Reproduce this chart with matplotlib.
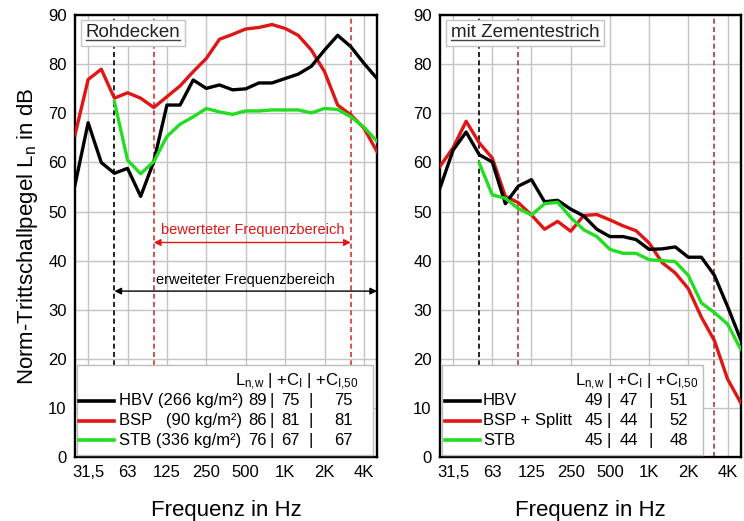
import matplotlib
matplotlib.use("Agg")
import matplotlib.pyplot as plt
from matplotlib.patches import Rectangle
from matplotlib.lines import Line2D

plt.rcParams["font.family"] = ["Liberation Sans", "DejaVu Sans"]
plt.rcParams["mathtext.default"] = "regular"

# third-octave bands 25 Hz .. 5 kHz
BANDS = [25, 31.5, 40, 50, 63, 80, 100, 125, 160, 200, 250, 315,
         400, 500, 630, 800, 1000, 1250, 1600, 2000, 2500, 3150, 4000, 5000]
OCTAVE_BANDS = [31.5, 63, 125, 250, 500, 1000, 2000, 4000]
OCTAVE_LABELS = ["31,5", "63", "125", "250", "500", "1K", "2K", "4K"]

# Rohdecken
RAW_HBV = [55.4, 68.1, 60.0, 57.8, 58.8, 53.1, 60.2, 71.7, 71.7, 76.8, 75.1, 75.8,
           74.8, 75.0, 76.2, 76.2, 77.1, 78.0, 79.6, 82.9, 85.9, 83.6, 80.2, 77.1]
RAW_BSP = [65.6, 76.9, 79.0, 73.1, 74.2, 73.1, 71.2, 73.4, 75.6, 78.5, 81.2, 85.1,
           86.1, 87.2, 87.5, 88.1, 87.3, 85.9, 82.9, 78.5, 71.7, 69.7, 67.0, 62.2]
RAW_STB = [None, None, None, 72.4, 60.5, 57.7, 60.2, 65.3, 67.8, 69.3, 71.0, 70.3,
           69.8, 70.5, 70.5, 70.7, 70.7, 70.7, 70.1, 71.0, 70.8, 69.3, 67.2, 64.3]

# mit Zementestrich
SCR_HBV = [54.8, 62.5, 66.2, 61.6, 60.1, 51.6, 55.2, 56.5, 52.0, 52.3, 50.5, 49.1,
           46.4, 44.9, 44.9, 44.3, 42.3, 42.4, 42.8, 40.7, 40.7, 37.0, 30.7, 24.0]
SCR_BSP = [59.2, 63.0, 68.4, 64.0, 60.9, 53.1, 51.8, 49.3, 46.4, 48.0, 46.0, 49.2,
           49.4, 48.3, 47.1, 46.1, 43.6, 39.6, 37.5, 34.3, 28.5, 23.7, 15.9, 11.1]
SCR_STB = [None, None, None, 59.9, 53.4, 52.7, 50.6, 49.3, 51.6, 51.9, 48.8, 46.3,
           44.9, 42.3, 41.5, 41.5, 40.2, 40.0, 39.8, 37.0, 31.4, 29.4, 27.1, 22.0]

RAW_NAMES = ["HBV (266 kg/m²)", "BSP   (90 kg/m²)", "STB (336 kg/m²)"]
RAW_LNW = [89, 86, 76]
RAW_CI = [75, 81, 67]
RAW_CI50 = [75, 81, 67]

SCR_NAMES = ["HBV", "BSP + Splitt", "STB"]
SCR_LNW = [49, 45, 45]
SCR_CI = [47, 44, 44]
SCR_CI50 = [51, 52, 48]

COLORS = ["black", "#e01515", "#22dd22"]
HEADER = "L$_{n{,}w}$ | +C$_I$ | +C$_{I{,}50}$"

x = list(range(len(BANDS)))
octave_pos = [BANDS.index(f) for f in OCTAVE_BANDS]
ext_start = BANDS.index(50)
eval_start = BANDS.index(100)
eval_end = BANDS.index(3150)


def setup_axes(ax, red_dash):
    ax.set_xlim(0, len(BANDS) - 1)
    ax.set_ylim(0, 90)
    ax.set_yticks(range(0, 91, 10))
    ax.set_xticks(octave_pos)
    ax.set_xticklabels(OCTAVE_LABELS)
    ax.tick_params(length=0, labelsize=12, pad=6)
    ax.grid(True, color="#c4c4c4", linewidth=1.0)
    ax.set_axisbelow(True)
    for sp in ax.spines.values():
        sp.set_linewidth(1.7)
    ax.axvline(ext_start, color="black", linestyle=(0, (3, 2)), linewidth=1.2, zorder=1.5)
    for pos in (eval_start, eval_end):
        ax.axvline(pos, color=red_dash, linestyle=(0, (3, 2)), linewidth=1.2, zorder=1.5)
    ax.set_xlabel("Frequenz in Hz", fontsize=16, labelpad=14)


def draw_legend(ax, names, lnw, ci, ci50, box_w, cols, header_x):
    ax.add_patch(Rectangle((0.006, 0.004), box_w, 0.204, transform=ax.transAxes,
                           facecolor="white", edgecolor="#bdbdbd", linewidth=1.0, zorder=5))
    ax.text(header_x, 0.170, HEADER, transform=ax.transAxes, ha="right", va="center",
            fontsize=12, zorder=6)
    rows_y = [0.127, 0.082, 0.038]
    line_x0, line_x1, name_x, n1, b1, n2, b2, n3 = cols
    for i, yy in enumerate(rows_y):
        ax.add_line(Line2D([line_x0, line_x1], [yy, yy], transform=ax.transAxes,
                           color=COLORS[i], linewidth=2.6, zorder=6))
        ax.text(name_x, yy, names[i], transform=ax.transAxes, ha="left", va="center",
                fontsize=12, zorder=6)
        ax.text(n1, yy, str(lnw[i]), transform=ax.transAxes, ha="center", va="center",
                fontsize=12, zorder=6)
        ax.text(b1, yy, "|", transform=ax.transAxes, ha="center", va="center",
                fontsize=12, zorder=6)
        ax.text(n2, yy, str(ci[i]), transform=ax.transAxes, ha="center", va="center",
                fontsize=12, zorder=6)
        ax.text(b2, yy, "|", transform=ax.transAxes, ha="center", va="center",
                fontsize=12, zorder=6)
        ax.text(n3, yy, str(ci50[i]), transform=ax.transAxes, ha="center", va="center",
                fontsize=12, zorder=6)


def panel_title(ax, label):
    return ax.text(0.035, 0.960, label, transform=ax.transAxes, ha="left", va="center",
                   fontsize=13.5, color="#222222", zorder=6,
                   bbox=dict(boxstyle="square,pad=0.25", facecolor="white",
                             edgecolor="#c4c4c4", linewidth=1.0))


fig = plt.figure(figsize=(7.44, 5.21), dpi=100)
ax1 = fig.add_axes([0.1008, 0.1228, 0.406, 0.848])
ax2 = fig.add_axes([0.5914, 0.1228, 0.404, 0.848])

# left panel
setup_axes(ax1, "#d03535")
for series, c in zip([RAW_BSP, RAW_HBV, RAW_STB], [COLORS[1], COLORS[0], COLORS[2]]):
    ax1.plot(x, [float("nan") if v is None else v for v in series], color=c,
             linewidth=2.4, zorder=3)
ax1.annotate("", xy=(eval_end, 43.7), xytext=(eval_start, 43.7),
             arrowprops=dict(arrowstyle="<|-|>", color="#e01515", lw=1.0,
                             shrinkA=0, shrinkB=0, mutation_scale=10))
ax1.text(13.5, 46.3, "bewerteter Frequenzbereich", color="#e01515", fontsize=10.5,
         ha="center", va="center")
ax1.annotate("", xy=(len(BANDS) - 1, 33.8), xytext=(ext_start, 33.8),
             arrowprops=dict(arrowstyle="<|-|>", color="black", lw=1.0,
                             shrinkA=0, shrinkB=0, mutation_scale=10))
ax1.text(13.0, 36.1, "erweiteter Frequenzbereich", color="black", fontsize=10.5,
         ha="center", va="center")
draw_legend(ax1, RAW_NAMES, RAW_LNW, RAW_CI, RAW_CI50, 0.982,
            (0.013, 0.129, 0.146, 0.603, 0.652, 0.714, 0.780, 0.889), 0.94)
t1 = panel_title(ax1, "Rohdecken")
ax1.set_ylabel("Norm-Trittschallpegel L$_n$ in dB", fontsize=16, labelpad=6)

# right panel
setup_axes(ax2, "#a83a3a")
for series, c in zip([SCR_BSP, SCR_HBV, SCR_STB], [COLORS[1], COLORS[0], COLORS[2]]):
    ax2.plot(x, [float("nan") if v is None else v for v in series], color=c,
             linewidth=2.4, zorder=3)
draw_legend(ax2, SCR_NAMES, SCR_LNW, SCR_CI, SCR_CI50, 0.868,
            (0.017, 0.133, 0.143, 0.513, 0.56, 0.63, 0.70, 0.795), 0.86)
t2 = panel_title(ax2, "mit Zementestrich")

# underline the panel titles
fig.canvas.draw()
for ax, t in ((ax1, t1), (ax2, t2)):
    bb = t.get_window_extent().transformed(ax.transAxes.inverted())
    ax.add_line(Line2D([bb.x0, bb.x1], [bb.y0 + 0.004, bb.y0 + 0.004],
                       transform=ax.transAxes, color="#444444", linewidth=1.0, zorder=7))

fig.savefig("out.png", dpi=100)
